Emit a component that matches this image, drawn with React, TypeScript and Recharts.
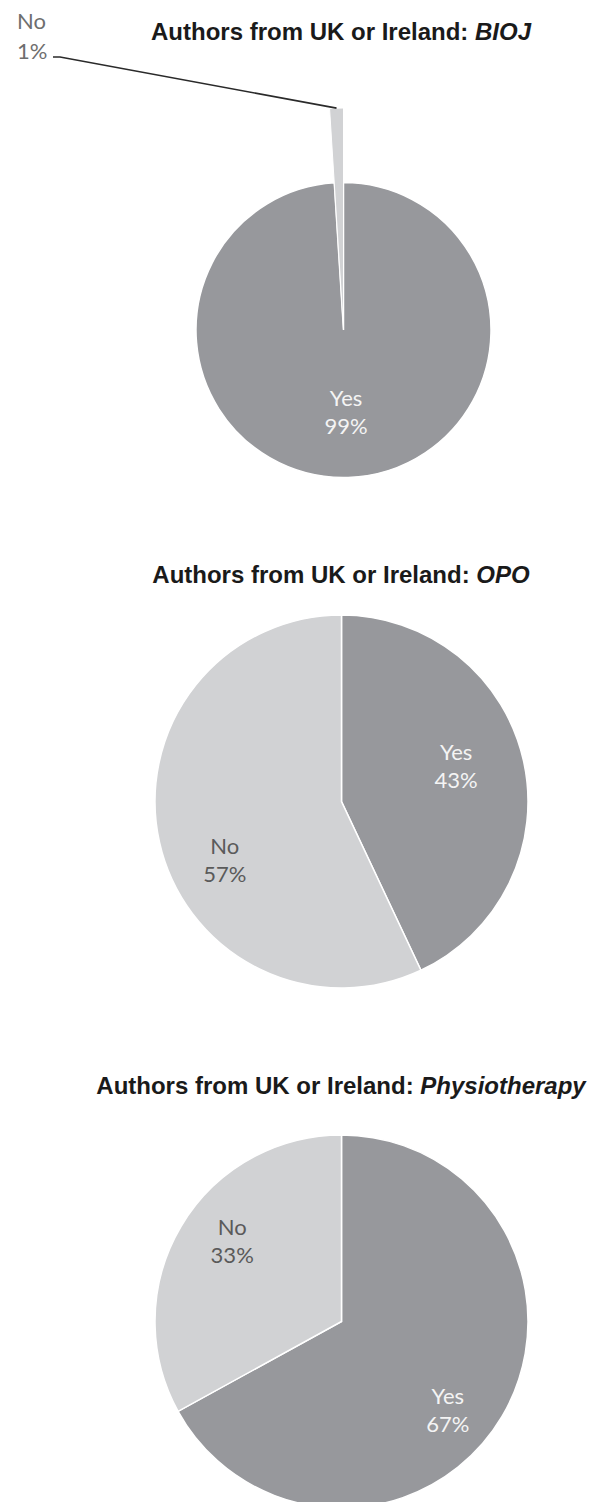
import React from "react"
import { PieChart, Pie, Cell } from "recharts"

const answers = ["Yes", "No"]
const biojShare = [99, 1]
const opoShare = [43, 57]
const physioShare = [67, 33]
const journals = ["BIOJ", "OPO", "Physiotherapy"]

const DARK = "#97989c"
const LIGHT = "#d1d2d4"
const RAD = Math.PI / 180
const labelFont = "Lato, 'Open Sans', sans-serif"
const noMargin = { top: 0, right: 0, bottom: 0, left: 0 }

const toData = (share: number[]) => answers.map((name, i) => ({ name, value: share[i] }))

const sliceColor = (name: string) => (name === "Yes" ? DARK : LIGHT)
const textColor = (name: string) => (name === "Yes" ? "#f4f4f4" : "#5a5a5a")

// two-line label ("Yes" / "43%") placed along the slice's mid angle,
// with a small per-slice shift like Excel's "best fit" placement
const insideLabel = (ratio: number[], shift: number[]) => (p: any) => {
  const { cx, cy, midAngle, outerRadius, percent, name, index } = p
  const r = outerRadius * ratio[index]
  const a = (midAngle + shift[index]) * RAD
  const x = cx + r * Math.cos(-a)
  const y = cy + r * Math.sin(-a)
  return (
    <text textAnchor="middle" fill={textColor(name)} fontFamily={labelFont} fontSize={22}>
      <tspan x={x} y={y - 14} dominantBaseline="central">{name}</tspan>
      <tspan x={x} y={y + 14} dominantBaseline="central">{Math.round(percent * 100)}%</tspan>
    </text>
  )
}

// the pulled-out 1% slice gets its label far out on the left with a leader line
const leaderLabel = (p: any) => {
  const { cx, cy, midAngle, outerRadius, percent, name } = p
  if (name !== "No") return null
  const ex = cx + outerRadius * Math.cos(-midAngle * RAD)
  const ey = cy + outerRadius * Math.sin(-midAngle * RAD)
  return (
    <g>
      <path d={`M 53 57 H 60 L ${ex} ${ey}`} stroke="#2a2a2a" strokeWidth={1.6} fill="none" />
      <text textAnchor="start" fill="#6e6e6e" fontFamily={labelFont} fontSize={22}>
        <tspan x={17} y={20} dominantBaseline="central">{name}</tspan>
        <tspan x={17} y={50} dominantBaseline="central">{Math.round(percent * 100)}%</tspan>
      </text>
    </g>
  )
}

function Title({ journal, top }: { journal: string; top: number }) {
  return (
    <div
      style={{
        position: "absolute",
        top,
        left: 0,
        width: 682,
        textAlign: "center",
        fontFamily: "'Liberation Sans', Arial, sans-serif",
        fontWeight: "bold",
        fontSize: 24,
        lineHeight: "24px",
        color: "#1a1a1a",
        whiteSpace: "nowrap",
      }}
    >
      Authors from UK or Ireland: <i>{journal}</i>
    </div>
  )
}

function SimplePie({ share, top, height, cx, cy, r, ratio, shift }: any) {
  const data = toData(share)
  return (
    <div style={{ position: "absolute", top, left: 0 }}>
      <PieChart width={595} height={height} margin={noMargin}>
        <Pie
          data={data}
          dataKey="value"
          nameKey="name"
          cx={cx}
          cy={cy}
          outerRadius={r}
          startAngle={90}
          endAngle={-270}
          stroke="#ffffff"
          strokeWidth={1.5}
          label={insideLabel(ratio, shift)}
          labelLine={false}
          isAnimationActive={false}
        >
          {data.map((d) => (
            <Cell key={d.name} fill={sliceColor(d.name)} />
          ))}
        </Pie>
      </PieChart>
    </div>
  )
}

function BiojPie() {
  const data = toData(biojShare)
  const yesLabel = insideLabel([0.55, 0.55], [0, 0])
  return (
    <div style={{ position: "absolute", top: 0, left: 0 }}>
      <PieChart width={595} height={500} margin={noMargin}>
        <Pie
          data={data}
          dataKey="value"
          nameKey="name"
          cx={343.5}
          cy={330}
          outerRadius={147.5}
          startAngle={90}
          endAngle={-270}
          label={(p: any) => (p.name === "Yes" ? yesLabel(p) : null)}
          labelLine={false}
          isAnimationActive={false}
        >
          {data.map((d) => (
            <Cell
              key={d.name}
              fill={d.name === "Yes" ? DARK : "none"}
              stroke={d.name === "Yes" ? "#ffffff" : "none"}
              strokeWidth={1.5}
            />
          ))}
        </Pie>
        <Pie
          data={data}
          dataKey="value"
          nameKey="name"
          cx={343.5}
          cy={330}
          outerRadius={222}
          startAngle={90}
          endAngle={-270}
          label={leaderLabel}
          labelLine={false}
          isAnimationActive={false}
        >
          {data.map((d) => (
            <Cell
              key={d.name}
              fill={d.name === "No" ? LIGHT : "none"}
              stroke={d.name === "No" ? "#ffffff" : "none"}
              strokeWidth={1}
            />
          ))}
        </Pie>
      </PieChart>
    </div>
  )
}

export default function App() {
  return (
    <div style={{ position: "absolute", top: 0, left: 0, width: 595, height: 1502, background: "#ffffff", overflow: "hidden" }}>
      <BiojPie />
      <SimplePie share={opoShare} top={500} height={500} cx={341.5} cy={301.5} r={186.5} ratio={[0.645, 0.7]} shift={[5, 14]} />
      <SimplePie share={physioShare} top={1000} height={502} cx={341.5} cy={321.5} r={186.5} ratio={[0.74, 0.73]} shift={[-9, -6]} />
      <Title journal={journals[0]} top={20} />
      <Title journal={journals[1]} top={563} />
      <Title journal={journals[2]} top={1074} />
    </div>
  )
}
